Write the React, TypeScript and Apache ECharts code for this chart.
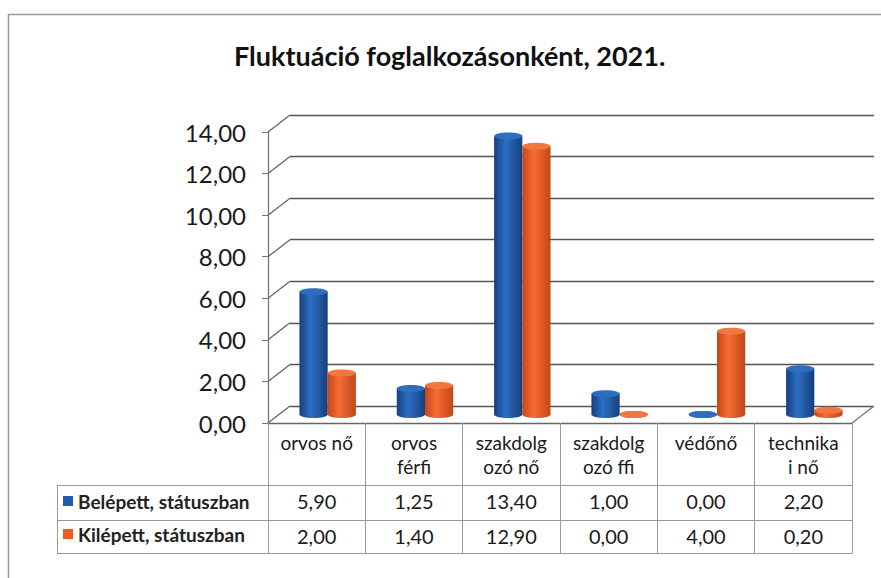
import React, { useEffect, useRef } from "react";
import * as echarts from "echarts";

const TITLE = "Fluktuáció foglalkozásonként, 2021.";
const categories = ["orvos nő", "orvos férfi", "szakdolgozó nő", "szakdolgozó ffi", "védőnő", "technikai nő"];
const categoryLines = ["orvos nő", "orvos\nférfi", "szakdolg\nozó nő", "szakdolg\nozó ffi", "védőnő", "technika\ni nő"];
const seriesNames = ["Belépett, státuszban", "Kilépett, státuszban"];
const belepett = [5.9, 1.25, 13.4, 1.0, 0.0, 2.2];
const kilepett = [2.0, 1.4, 12.9, 0.0, 4.0, 0.2];
const yTicks = [0, 2, 4, 6, 8, 10, 12, 14];

const FONT = "Lato";
const DX = 22;
const DY = -17;
const COLORS = [
  { main: "#1f5eae", dark: "#163f7c", light: "#2c6fc4", top: "#2f6dbf" },
  { main: "#ec5b26", dark: "#c2461a", light: "#f66d33", top: "#f3763f" },
];

const fmt = (v: number) => v.toFixed(2).replace(".", ",");

export default function App() {
  const ref = useRef<HTMLDivElement>(null);
  useEffect(() => {
    if (!ref.current) return;
    const chart = echarts.init(ref.current, null, { renderer: "svg" });
    const seriesData = [belepett, kilepett];

    const barSeries = seriesData.map((vals, s) => ({
      type: "custom",
      name: seriesNames[s],
      xAxisIndex: 1,
      yAxisIndex: 1,
      clip: false,
      itemStyle: { color: COLORS[s].main },
      encode: { x: 0, y: 1 },
      data: vals.map((v, i) => [i, v]),
      renderItem: (params: any, api: any) => {
        const idx = api.value(0);
        const v = api.value(1);
        const base = api.coord([idx, 0]);
        const top = api.coord([idx, v]);
        const bandW = api.size([1, 0])[0];
        const w = bandW * 0.29;
        const cx = base[0] + DX / 2 + (s === 0 ? -w / 2 : w / 2);
        const yb = base[1] + DY / 2;
        const yt = top[1] + DY / 2;
        const rx = w / 2;
        const ry = 3.5;
        const c = COLORS[s];
        const grad = new echarts.graphic.LinearGradient(0, 0, 1, 0, [
          { offset: 0, color: c.dark },
          { offset: 0.4, color: c.light },
          { offset: 1, color: c.dark },
        ]);
        return {
          type: "group",
          children: [
            { type: "ellipse", shape: { cx, cy: yb, rx, ry }, style: { fill: grad } },
            { type: "rect", shape: { x: cx - rx, y: yt, width: w, height: Math.max(0, yb - yt) }, style: { fill: grad } },
            { type: "ellipse", shape: { cx, cy: yt, rx, ry }, style: { fill: c.top } },
          ],
        };
      },
    }));

    const depthSeries = {
      type: "custom",
      name: "depth",
      xAxisIndex: 1,
      yAxisIndex: 1,
      clip: false,
      silent: true,
      encode: { x: 0, y: 1 },
      data: yTicks.map((t) => [0, t]),
      renderItem: (params: any, api: any) => {
        const cs = params.coordSys;
        const v = api.value(1);
        const p = api.coord([0, v]);
        const children: any[] = [
          {
            type: "line",
            shape: { x1: cs.x, y1: p[1], x2: cs.x + DX, y2: p[1] + DY },
            style: { stroke: "#666", lineWidth: 1.3 },
          },
        ];
        if (v === 0) {
          children.push({
            type: "line",
            shape: { x1: cs.x + cs.width, y1: p[1], x2: cs.x + cs.width + DX, y2: p[1] + DY },
            style: { stroke: "#777", lineWidth: 1.3 },
          });
        }
        return { type: "group", children };
      },
    };

    const option: any = {
      animation: false,
      backgroundColor: "#fff",
      textStyle: { fontFamily: FONT },
      title: {
        text: TITLE,
        left: 229,
        top: 37,
        textStyle: { fontFamily: FONT, fontSize: 27, fontWeight: "bold", color: "#111" },
      },
      legend: {
        data: seriesNames,
        orient: "vertical",
        left: 63,
        top: 491,
        padding: 0,
        itemWidth: 10,
        itemHeight: 10,
        itemGap: 13,
        icon: "rect",
        textStyle: { fontFamily: FONT, fontSize: 19, fontWeight: "bold", color: "#222", lineHeight: 20 },
        selectedMode: false,
      },
      grid: [
        { left: 268 + DX, right: 881 - 852 - DX, top: 132 + DY, bottom: 578 - 423 - DY },
        { left: 268, right: 881 - 852, top: 132, bottom: 578 - 423 },
      ],
      xAxis: [
        { gridIndex: 0, type: "category", data: categories, show: false },
        {
          gridIndex: 1,
          type: "category",
          data: categories,
          axisLine: { show: true, lineStyle: { color: "#666", width: 1.3 } },
          axisTick: { show: true, interval: 0, length: 130, lineStyle: { color: "#999" } },
          axisLabel: {
            interval: 0,
            margin: 7,
            fontSize: 19,
            lineHeight: 24,
            color: "#1a1a1a",
            fontFamily: FONT,
            formatter: (_v: string, i: number) => categoryLines[i],
          },
        },
        {
          gridIndex: 1,
          type: "category",
          data: categories,
          position: "bottom",
          offset: 62,
          axisLine: { show: true, lineStyle: { color: "#999" } },
          axisTick: { show: false },
          axisLabel: {
            interval: 0,
            margin: 6,
            fontSize: 20,
            color: "#1a1a1a",
            fontFamily: FONT,
            formatter: (_v: string, i: number) => fmt(belepett[i]),
          },
        },
        {
          gridIndex: 1,
          type: "category",
          data: categories,
          position: "bottom",
          offset: 97,
          axisLine: { show: true, lineStyle: { color: "#999" } },
          axisTick: { show: false },
          axisLabel: {
            interval: 0,
            margin: 6,
            fontSize: 20,
            color: "#1a1a1a",
            fontFamily: FONT,
            formatter: (_v: string, i: number) => fmt(kilepett[i]),
          },
        },
        {
          gridIndex: 1,
          type: "category",
          data: categories,
          position: "bottom",
          offset: 130,
          axisLine: { show: true, lineStyle: { color: "#999" } },
          axisTick: { show: false },
          axisLabel: { show: false },
        },
      ],
      yAxis: [
        {
          gridIndex: 0,
          type: "value",
          min: 0,
          max: 14,
          interval: 2,
          axisLine: { show: false },
          axisTick: { show: false },
          axisLabel: { show: false },
          splitLine: { show: true, lineStyle: { color: "#555", width: 1.3 } },
        },
        {
          gridIndex: 1,
          type: "value",
          min: 0,
          max: 14,
          interval: 2,
          axisLine: { show: true, lineStyle: { color: "#777", width: 1.3 } },
          axisTick: { show: true, length: 6, lineStyle: { color: "#777" } },
          splitLine: { show: false },
          axisLabel: {
            margin: 22,
            fontSize: 24,
            color: "#1a1a1a",
            fontFamily: FONT,
            formatter: (v: number) => fmt(v),
          },
        },
      ],
      graphic: [
        { type: "line", shape: { x1: 8, y1: 14.5, x2: 881, y2: 14.5 }, style: { stroke: "#999", lineWidth: 1.5 } },
        { type: "line", shape: { x1: 8.5, y1: 14, x2: 8.5, y2: 578 }, style: { stroke: "#999", lineWidth: 1.5 } },
        { type: "line", shape: { x1: 57.5, y1: 485, x2: 57.5, y2: 553 }, style: { stroke: "#999" } },
        { type: "line", shape: { x1: 57, y1: 485.5, x2: 268, y2: 485.5 }, style: { stroke: "#999" } },
        { type: "line", shape: { x1: 57, y1: 520.5, x2: 268, y2: 520.5 }, style: { stroke: "#999" } },
        { type: "line", shape: { x1: 57, y1: 553.5, x2: 268, y2: 553.5 }, style: { stroke: "#999" } },
      ],
      series: [depthSeries, ...barSeries],
    };
    chart.setOption(option);
    return () => chart.dispose();
  }, []);
  return <div ref={ref} style={{ width: 881, height: 578, position: "absolute", left: 0, top: 0 }} />;
}
